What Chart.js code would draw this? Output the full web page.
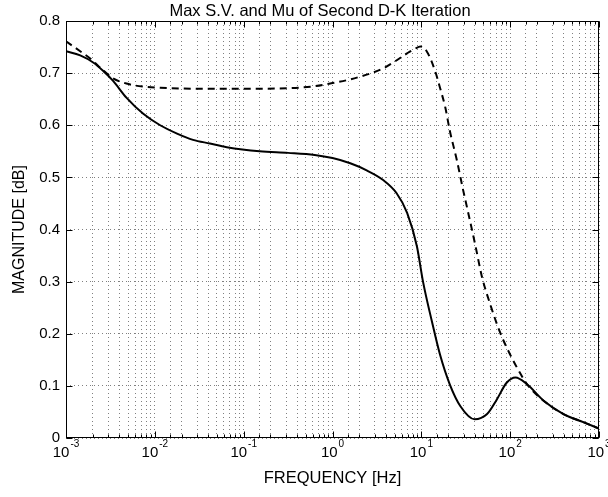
<!DOCTYPE html>
<html><head><meta charset="utf-8">
<script src="https://cdn.jsdelivr.net/npm/chart.js@4.4.1/dist/chart.umd.min.js"></script>
<style>html,body{margin:0;padding:0;background:#fff}canvas{display:block}</style>
</head><body>
<canvas id="c" width="608" height="497"></canvas>
<script>
// ---- data ----
const freqMu = [0.001, 0.001445, 0.002042, 0.00263, 0.00339, 0.004786, 0.007413, 0.01148, 0.01778, 0.02692, 0.04169, 0.06457, 0.1514, 0.3162, 0.631, 1, 1.585, 2.455, 3.715, 5.248, 6.918, 8.913, 10.47, 13.18, 16.22, 20.89, 27.54, 39.81, 54.95, 70.79, 91.2, 114.8, 154.9, 239.9, 398.1, 676.1, 1000];
const mu = [0.742, 0.734, 0.720, 0.704, 0.685, 0.653, 0.622, 0.600, 0.584, 0.572, 0.565, 0.558, 0.550, 0.547, 0.543, 0.537, 0.527, 0.513, 0.495, 0.470, 0.432, 0.368, 0.299, 0.223, 0.160, 0.103, 0.061, 0.036, 0.046, 0.074, 0.106, 0.116, 0.103, 0.071, 0.046, 0.030, 0.018];

const freqSv = [0.001, 0.001445, 0.001905, 0.00263, 0.00339, 0.004786, 0.007413, 0.01148, 0.03162, 0.1, 0.3162, 0.631, 1, 1.585, 2.63, 3.715, 4.898, 6.918, 8.511, 9.772, 11.48, 14.29, 16.22, 18.62, 20.89, 25.12, 29.51, 33.11, 40.74, 47.86, 60.26, 77.62, 100, 128.8, 154.9, 239.9, 398.1, 676.1, 1000];
const maxSv = [0.761, 0.742, 0.727, 0.705, 0.690, 0.680, 0.674, 0.672, 0.670, 0.670, 0.671, 0.675, 0.681, 0.688, 0.699, 0.709, 0.721, 0.738, 0.747, 0.751, 0.742, 0.704, 0.672, 0.634, 0.590, 0.533, 0.476, 0.438, 0.368, 0.311, 0.254, 0.201, 0.160, 0.125, 0.103, 0.071, 0.046, 0.030, 0.018];

const xDecadeExponents = ['-3', '-2', '-1', '0', '1', '2', '3'];
const yTickValues = [0, 0.1, 0.2, 0.3, 0.4, 0.5, 0.6, 0.7, 0.8];
const titleText = 'Max S.V. and Mu of Second D-K Iteration';
const xTitleText = 'FREQUENCY [Hz]';
const yTitleText = 'MAGNITUDE [dB]';

const FAMILY = "'Liberation Sans', Arial, Helvetica, sans-serif";

function pts(xs, ys) { return xs.map((v, i) => ({ x: v, y: ys[i] })); }

const framePlugin = {
  id: 'frame',
  afterDraw(chart) {
    const { ctx, chartArea: a, scales } = chart;
    const x = scales.x, y = scales.y;
    const L = Math.round(a.left) + 0.5, R = Math.round(a.right) - 0.5;
    const T = Math.round(a.top) + 0.5, B = Math.round(a.bottom) - 0.5;
    ctx.save();
    ctx.strokeStyle = '#000';
    ctx.lineWidth = 1;
    ctx.setLineDash([]);
    ctx.strokeRect(L, T, R - L, B - T);
    ctx.beginPath();
    x.ticks.forEach(t => {
      const e = Math.log10(t.value);
      const major = Math.abs(e - Math.round(e)) < 1e-6;
      const len = major ? 6 : 3;
      const px = Math.round(x.getPixelForValue(t.value)) + 0.5;
      ctx.moveTo(px, B); ctx.lineTo(px, B - len);
      ctx.moveTo(px, T); ctx.lineTo(px, T + len);
    });
    y.ticks.forEach(t => {
      const py = Math.round(y.getPixelForValue(t.value)) + 0.5;
      ctx.moveTo(L, py); ctx.lineTo(L + 6, py);
      ctx.moveTo(R, py); ctx.lineTo(R - 6, py);
    });
    ctx.stroke();
    // title, centred over the plot area
    ctx.fillStyle = '#000';
    ctx.textBaseline = 'middle';
    ctx.textAlign = 'center';
    ctx.font = '16.5px ' + FAMILY;
    ctx.fillText(titleText, 320, 11);
    // x decade labels 10^n
    ctx.textAlign = 'left';
    xDecadeExponents.forEach(e => {
      const px = x.getPixelForValue(Math.pow(10, Number(e)));
      ctx.font = '15px ' + FAMILY;
      const wBase = ctx.measureText('10').width;
      ctx.font = '10px ' + FAMILY;
      const wExp = ctx.measureText(e).width;
      const start = px - (wBase + 1 + wExp) / 2;
      ctx.font = '15px ' + FAMILY;
      ctx.fillText('10', start, 453);
      ctx.font = '10px ' + FAMILY;
      ctx.fillText(e, start + wBase + 1, 444);
    });
    ctx.restore();
  }
};

new Chart(document.getElementById('c'), {
  type: 'line',
  data: {
    datasets: [
      {
        label: 'Mu',
        data: pts(freqMu, mu),
        borderColor: '#000',
        borderWidth: 2,
        pointRadius: 0,
        fill: false,
        cubicInterpolationMode: 'monotone'
      },
      {
        label: 'Max S.V.',
        data: pts(freqSv, maxSv),
        borderColor: '#000',
        borderWidth: 2,
        borderDash: [7, 5],
        pointRadius: 0,
        fill: false,
        cubicInterpolationMode: 'monotone'
      }
    ]
  },
  options: {
    responsive: false,
    animation: false,
    devicePixelRatio: 1,
    layout: { padding: { left: 0, right: 9, top: 21, bottom: 0 } },
    plugins: {
      legend: { display: false },
      tooltip: { enabled: false },
      title: { display: false }
    },
    scales: {
      x: {
        type: 'logarithmic',
        min: 0.001,
        max: 1000,
        border: { display: false, dash: [1, 3] },
        grid: { color: '#808080', lineWidth: 1, drawTicks: false },
        ticks: { display: false, autoSkip: false },
        title: {
          display: true,
          text: xTitleText,
          color: '#000',
          font: { family: FAMILY, size: 16.5, lineHeight: 1.2 },
          padding: { top: 0, bottom: 9 }
        },
        afterFit(s) { s.height = 59; }
      },
      y: {
        type: 'linear',
        min: 0,
        max: 0.8,
        afterBuildTicks(s) { s.ticks = yTickValues.map(v => ({ value: v })); },
        border: { display: false, dash: [1, 3] },
        grid: { color: '#808080', lineWidth: 1, drawTicks: false },
        ticks: {
          color: '#000',
          padding: 6,
          font: { family: FAMILY, size: 15 },
          callback: v => String(Math.round(v * 10) / 10)
        },
        title: {
          display: true,
          text: yTitleText,
          color: '#000',
          font: { family: FAMILY, size: 16, lineHeight: 1.2 },
          padding: { top: 10, bottom: 0 }
        },
        afterFit(s) { s.width = 66; }
      }
    }
  },
  plugins: [framePlugin]
});
</script>
</body></html>
